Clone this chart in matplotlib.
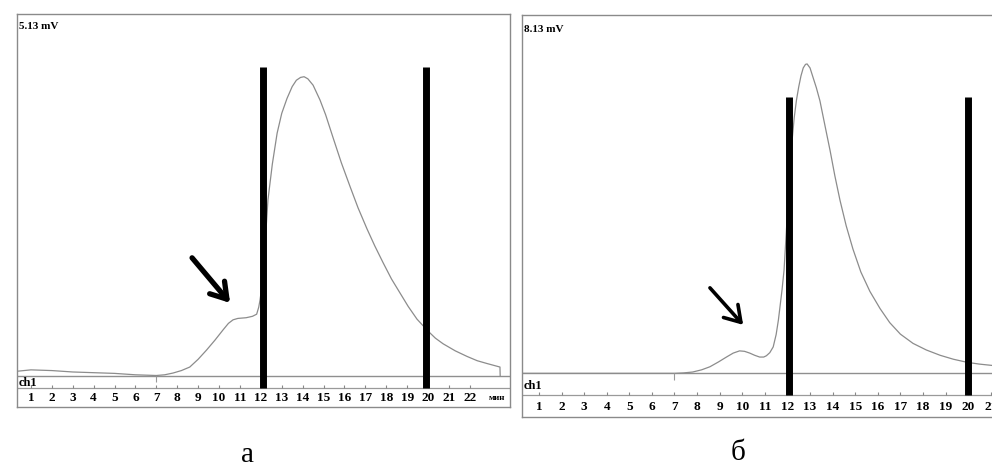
import numpy as np
import matplotlib.pyplot as plt

# шрифт как в распечатке хроматографа (Times-подобный)
plt.rcParams['font.family'] = ['Liberation Serif', 'DejaVu Serif']

# --- панель а: время, мин / сигнал, мВ ---
t_a = [0.33, 1.0, 2.0, 3.0, 4.0, 5.0, 6.0, 7.0, 7.4, 7.8, 8.2, 8.6, 9.0,
       9.4, 9.8, 10.2, 10.45, 10.67, 10.9, 11.3, 11.6, 11.8, 11.9, 11.96,
       12.05, 12.2, 12.34, 12.55, 12.78, 13.0, 13.25, 13.5, 13.7, 13.9,
       14.07, 14.25, 14.5, 14.83, 15.1, 15.45, 15.85, 16.27, 16.65, 17.08,
       17.45, 17.85, 18.25, 18.66, 19.05, 19.47, 20.0, 20.35, 20.72, 21.3,
       21.87, 22.35, 22.82, 23.44, 23.45]
mv_a = [0.06, 0.08, 0.07, 0.05, 0.04, 0.03, 0.01, 0.0, 0.01, 0.035, 0.07,
        0.12, 0.23, 0.36, 0.50, 0.65, 0.74, 0.79, 0.81, 0.82, 0.84, 0.87,
        0.97, 1.07, 1.26, 1.85, 2.49, 3.0, 3.44, 3.72, 3.93, 4.10, 4.19,
        4.23, 4.24, 4.21, 4.12, 3.91, 3.70, 3.38, 3.02, 2.68, 2.38, 2.08,
        1.84, 1.60, 1.37, 1.17, 0.98, 0.80, 0.63, 0.53, 0.45, 0.35, 0.27,
        0.21, 0.17, 0.12, 0.0]

# --- панель б ---
t_b = [0.25, 2.0, 4.0, 6.0, 7.0, 7.4, 7.8, 8.2, 8.57, 8.95, 9.3, 9.6, 9.88,
       10.1, 10.33, 10.55, 10.77, 10.95, 11.07, 11.22, 11.37, 11.5, 11.6,
       11.68, 11.76, 11.85, 11.95, 12.1, 12.2, 12.3, 12.4, 12.5, 12.6, 12.7,
       12.8, 12.87, 13.0, 13.13, 13.28, 13.44, 13.65, 13.89, 14.1, 14.33,
       14.6, 14.9, 15.25, 15.65, 16.1, 16.53, 17.0, 17.56, 18.15, 18.76,
       19.35, 19.96, 20.5, 21.06]
mv_b = [0.0, 0.0, 0.0, 0.0, 0.0, 0.01, 0.03, 0.08, 0.15, 0.26, 0.37, 0.46,
        0.51, 0.50, 0.46, 0.41, 0.37, 0.37, 0.40, 0.47, 0.60, 0.88, 1.21,
        1.55, 1.89, 2.34, 3.2, 4.6, 5.25, 5.8, 6.2, 6.5, 6.75, 6.93, 7.01,
        7.02, 6.93, 6.72, 6.48, 6.18, 5.65, 5.05, 4.48, 3.92, 3.35, 2.82,
        2.30, 1.86, 1.47, 1.15, 0.89, 0.68, 0.53, 0.41, 0.32, 0.25, 0.21,
        0.18]

# границы сбора фракций (чёрные полосы)
cuts_a = [12.1, 19.9]
cuts_b = [12.05, 20.0]
cut_top_a = 4.38
cut_top_b = 6.27

ticks_a = list(range(1, 23))
ticks_b = list(range(1, 22))
scale_a = '5.13 mV'
scale_b = '8.13 mV'
panel_names = ['а', 'б']

# стрелки на плечо / малый пик: (хвост, острие)
arrow_a = ((8.71, 1.67), (10.53, 1.03))
arrow_b = ((8.57, 1.94), (10.04, 1.10))

W, H = 992, 474
fig = plt.figure(figsize=(W / 100, H / 100), dpi=100)


def px_axes(x0, x1, y0, y1):
    # прямоугольник в пикселях картинки (y сверху вниз)
    return fig.add_axes([x0 / W, 1 - y1 / H, (x1 - x0) / W, (y1 - y0) / H])


def draw_panel(ax, t, mv, xlim, ylim, cuts, cut_top, ticks, scale, arrow,
               arrow_lw, fr, unit=None, right_spine=True):
    base_f, tick_f, lab_f, ch_f, top_f = fr
    ax.set_xlim(*xlim)
    ax.set_ylim(*ylim)
    ax.set_xticks([])
    ax.set_yticks([])
    for name, sp in ax.spines.items():
        sp.set_color('#8a8a8a')
        sp.set_linewidth(1.0)
    ax.spines['right'].set_visible(right_spine)

    tr = ax.get_xaxis_transform()
    span = ylim[1] - ylim[0]
    y_tick = ylim[0] + tick_f * span

    # нулевая линия и сигнал
    ax.axhline(0, color='#8f8f8f', lw=1.0)
    ax.plot(t, mv, color='#8c8c8c', lw=0.9)
    # отметка ввода пробы
    ax.vlines(7.0, -0.016 * span, 0, color='#999999', lw=0.8)

    # шкала времени внизу
    ax.plot(xlim, [tick_f, tick_f], color='#9a9a9a', lw=0.9, transform=tr)
    ax.vlines(ticks, tick_f, tick_f + 0.008, color='#888888', lw=0.8,
              transform=tr)
    for k in ticks:
        ax.text(k, lab_f, str(k), transform=tr, ha='center', va='center',
                fontsize=9.5, fontweight='bold', clip_on=True)
    if unit:
        ax.text(23.3, lab_f, unit, transform=tr, ha='center', va='center',
                fontsize=6.5, fontweight='bold')
    ax.text(0.004, ch_f, 'ch1', transform=ax.transAxes, ha='left',
            va='center', fontsize=9, fontweight='bold')
    ax.text(0.004, top_f, scale, transform=ax.transAxes, ha='left',
            va='center', fontsize=8, fontweight='bold')

    # фракции
    ax.vlines(cuts, y_tick, cut_top, color='black', lw=5, capstyle='butt')

    tail, tip = arrow
    ax.annotate('', xy=tip, xytext=tail,
                arrowprops=dict(arrowstyle='->,head_length=0.55,head_width=0.35',
                                lw=arrow_lw, color='black', mutation_scale=20,
                                shrinkA=0, shrinkB=0))


ax_a = px_axes(17, 510, 14, 407)
draw_panel(ax_a, t_a, mv_a, (0.335, 23.92), (-0.447, 5.13), cuts_a,
           cut_top_a, ticks_a, scale_a, arrow_a, 3.8,
           (0.080, 0.048, 0.023, 0.061, 0.969), unit='мин')

ax_b = px_axes(522, 993, 15, 417)
draw_panel(ax_b, t_b, mv_b, (0.25, 21.1), (-0.99, 8.13), cuts_b,
           cut_top_b, ticks_b, scale_b, arrow_b, 2.6,
           (0.108, 0.055, 0.025, 0.077, 0.965), right_spine=False)

# подписи панелей
fig.text(248 / W, 1 - 455 / H, panel_names[0], ha='center', va='center',
         fontsize=21)
fig.text(738 / W, 1 - 453 / H, panel_names[1], ha='center', va='center',
         fontsize=21)

fig.savefig('out.png', dpi=100)
